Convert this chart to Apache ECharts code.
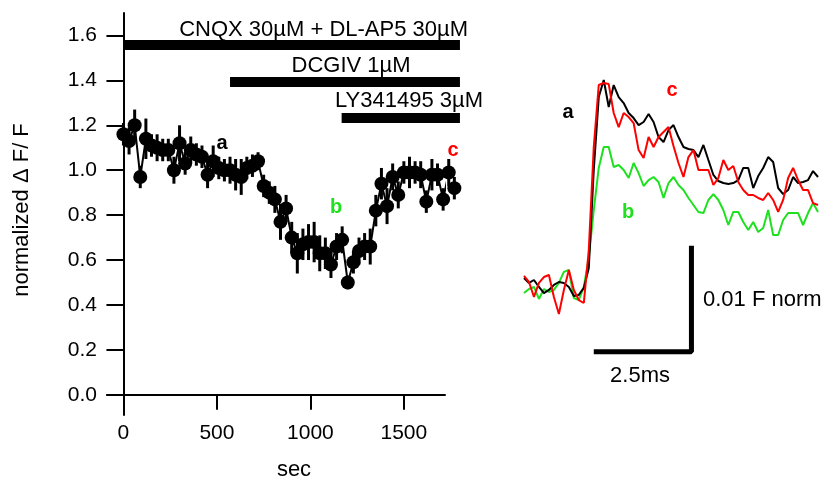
<!DOCTYPE html>
<html>
<head>
<meta charset="utf-8">
<script src="https://cdn.jsdelivr.net/npm/echarts@6.0.0/dist/echarts.min.js"></script>
<style>
  * { margin: 0; padding: 0; }
  html, body { background: #fff; }
</style>
</head>
<body>
<div id="main" style="width: 823px;height: 482px;"></div>
<script>
// 时间过程 (sec) 和归一化 ΔF/F
var secs = [0, 30, 60, 90, 120, 150, 180, 210, 240, 270, 300, 330, 360, 390, 420, 450, 480, 510, 540, 570,
  600, 630, 660, 690, 720, 750, 780, 810, 840, 870, 900, 930, 960, 990, 1020, 1050, 1080, 1110, 1140, 1170,
  1200, 1230, 1260, 1290, 1320, 1350, 1380, 1410, 1440, 1470, 1500, 1530, 1560, 1590, 1620, 1650, 1680, 1710, 1740, 1770]
var normDF = [1.16, 1.13, 1.20, 0.97, 1.14, 1.11, 1.10, 1.09, 1.09, 1.00, 1.12, 1.03, 1.09, 1.07, 1.06, 0.98, 1.04, 1.01, 1.00, 1.00,
  0.98, 0.97, 1.01, 1.02, 1.04, 0.93, 0.90, 0.87, 0.77, 0.83, 0.70, 0.63, 0.67, 0.68, 0.68, 0.63, 0.63, 0.58, 0.66, 0.69,
  0.50, 0.59, 0.64, 0.66, 0.66, 0.82, 0.94, 0.84, 0.97, 0.89, 0.99, 0.99, 0.99, 0.98, 0.86, 0.98, 0.98, 0.87, 0.99, 0.92]
var normErr = [0.05, 0.06, 0.07, 0.05, 0.09, 0.05, 0.06, 0.05, 0.05, 0.06, 0.08, 0.05, 0.06, 0.05, 0.05, 0.06, 0.07, 0.05, 0.05, 0.06,
  0.07, 0.08, 0.05, 0.05, 0.04, 0.05, 0.05, 0.06, 0.08, 0.06, 0.07, 0.09, 0.07, 0.08, 0.09, 0.08, 0.07, 0.06, 0.06, 0.06,
  0.03, 0.05, 0.06, 0.06, 0.08, 0.07, 0.07, 0.08, 0.06, 0.06, 0.05, 0.07, 0.05, 0.06, 0.05, 0.07, 0.05, 0.05, 0.06, 0.05]
var secTicks = [0, 500, 1000, 1500]
var dfTicks = [0, 0.2, 0.4, 0.6, 0.8, 1.0, 1.2, 1.4, 1.6]

// 药物施加时间
var drugNames = ['CNQX 30µM + DL-AP5 30µM', 'DCGIV 1µM', 'LY341495 3µM']
var drugStart = [8, 570, 1167]
var drugEnd = [1800, 1800, 1800]
var drugLevel = [1.557, 1.393, 1.232]

// 右侧荧光轨迹, 单位 0.001 F norm, 每 0.125 ms 一个点
var sampleMs = 0.125
var traceA = [0.85, 0.38, 0.66, 0, -0.57, -0.28, 0.19, 0.47, 0.38, 0, -0.85, -0.75, -0.09, 1.79, 11.04, 17.92, 19.53, 16.98, 19.06, 17.92,
  17.36, 16.42, 15.94, 15.28, 15.57, 16.32, 15.57, 14.15, 13.68, 14.81, 15.28, 14.15, 13.21, 13.02, 12.92, 12.26, 13.40, 11.98, 10.57, 10.0,
  9.81, 9.72, 9.81, 10.09, 11.23, 11.23, 9.34, 10.47, 11.23, 12.26, 11.79, 9.34, 8.77, 9.15, 10.38, 9.81, 9.91, 10.09, 10.94, 10.38]
var traceB = [-0.57, -0.19, 0, -1.13, -0.19, -0.47, -0.28, 0.38, 1.42, 1.60, -1.04, -1.23, 0, 2.74, 7.26, 11.23, 13.21, 13.21, 11.32, 11.51,
  11.04, 10.28, 11.70, 10.75, 9.53, 10.09, 10.38, 9.91, 8.40, 9.81, 10.38, 9.62, 9.15, 8.40, 7.74, 7.08, 6.98, 8.21, 8.77, 8.21,
  7.26, 5.85, 7.08, 7.08, 6.13, 5.38, 6.13, 5.19, 5.57, 7.26, 4.91, 4.91, 6.32, 6.98, 6.98, 6.98, 5.85, 6.98, 7.92, 7.08]
var traceC = [1.04, 0.47, -0.94, 0.38, 0.94, 1.13, -0.94, -2.55, -0.28, 1.60, -0.28, -1.23, -1.51, 3.49, 13.21, 19.06, 19.25, 19.15, 16.42, 15.09,
  16.42, 16.04, 15.47, 12.92, 12.17, 14.15, 13.21, 14.15, 14.62, 15.09, 13.30, 11.70, 10.38, 12.26, 12.92, 11.04, 11.04, 11.04, 9.62, 10.28,
  11.98, 11.04, 11.42, 9.91, 9.15, 8.68, 8.68, 8.40, 8.21, 8.87, 8.21, 7.08, 8.21, 10.28, 11.23, 10.09, 9.15, 9.15, 7.92, 7.74]

// 比例尺: 2.5 ms, 0.01 F norm (= 10 个单位)
var scaleX = [1.75, 4.2, 4.2]
var scaleY = [-6.1, -6.1, 3.9]

var FONT = 'Liberation Sans, Arial, sans-serif'
var GREEN = '#1fe01f'
var RED = '#ff0000'

function toPairs(xs, ys) {
  return xs.map(function (x, i) { return [x, ys[i]] })
}
function tracePairs(vals) {
  return vals.map(function (v, i) { return [i * sampleMs, v] })
}
function txt(x, y, s, opt) {
  opt = opt || {}
  return {
    type: 'text', x: x, y: y, rotation: opt.rotation || 0,
    style: {
      text: s, font: (opt.bold ? 'bold ' : '') + (opt.size || 22) + 'px ' + FONT,
      fill: opt.color || '#000', textAlign: opt.align || 'center', textVerticalAlign: 'middle'
    }
  }
}

var myChart = echarts.init(document.getElementById('main'))
myChart.setOption({
  animation: false,
  grid: [
    { left: 107, top: 13, width: 338, height: 402 },
    { left: 524, top: 60, width: 300, height: 300 }
  ],
  xAxis: [
    {
      type: 'value', gridIndex: 0, min: -88, max: 1720,
      splitLine: { show: false },
      axisLine: { onZero: true, lineStyle: { color: '#000', width: 2 } },
      axisTick: { length: 15, lineStyle: { color: '#000', width: 2 }, customValues: secTicks },
      axisLabel: {
        color: '#000', fontSize: 21, fontFamily: FONT, margin: 8, customValues: secTicks,
        formatter: function (v) { return String(v) }
      }
    },
    { type: 'value', gridIndex: 1, min: 0, max: 7.5, show: false }
  ],
  yAxis: [
    {
      type: 'value', gridIndex: 0, min: -0.09, max: 1.7,
      splitLine: { show: false },
      axisLine: { onZero: true, lineStyle: { color: '#000', width: 2 } },
      axisTick: { length: 17, lineStyle: { color: '#000', width: 2 }, customValues: dfTicks },
      axisLabel: {
        color: '#000', fontSize: 21, fontFamily: FONT, margin: 10, customValues: dfTicks,
        formatter: function (v) { return v.toFixed(1) }
      }
    },
    { type: 'value', gridIndex: 1, min: -6.89, max: 21.42, show: false }
  ],
  series: [
    {
      // 药物横条
      type: 'custom', xAxisIndex: 0, yAxisIndex: 0, clip: false,
      data: drugStart.map(function (s, i) { return [s, drugEnd[i], drugLevel[i]] }),
      renderItem: function (params, api) {
        var p1 = api.coord([api.value(0), api.value(2)])
        var p2 = api.coord([api.value(1), api.value(2)])
        return { type: 'line', shape: { x1: p1[0], y1: p1[1], x2: p2[0], y2: p2[1] }, style: { stroke: '#000', lineWidth: 10 } }
      }
    },
    {
      // 误差线
      type: 'custom', xAxisIndex: 0, yAxisIndex: 0, clip: false,
      data: secs.map(function (t, i) { return [t, normDF[i] - normErr[i], normDF[i] + normErr[i]] }),
      encode: { x: 0, y: [1, 2] },
      renderItem: function (params, api) {
        var p1 = api.coord([api.value(0), api.value(1)])
        var p2 = api.coord([api.value(0), api.value(2)])
        return { type: 'line', shape: { x1: p1[0], y1: p1[1], x2: p2[0], y2: p2[1] }, style: { stroke: '#000', lineWidth: 3 } }
      }
    },
    {
      type: 'line', xAxisIndex: 0, yAxisIndex: 0, clip: false,
      data: toPairs(secs, normDF),
      symbol: 'circle', symbolSize: 14,
      itemStyle: { color: '#000' },
      lineStyle: { color: '#000', width: 2 }
    },
    {
      type: 'line', xAxisIndex: 1, yAxisIndex: 1, data: tracePairs(traceB), symbol: 'none',
      lineStyle: { color: GREEN, width: 2 }
    },
    {
      type: 'line', xAxisIndex: 1, yAxisIndex: 1, data: tracePairs(traceA), symbol: 'none',
      lineStyle: { color: '#000', width: 2 }
    },
    {
      type: 'line', xAxisIndex: 1, yAxisIndex: 1, data: tracePairs(traceC), symbol: 'none',
      lineStyle: { color: RED, width: 2 }
    },
    {
      // 比例尺
      type: 'line', xAxisIndex: 1, yAxisIndex: 1, clip: false,
      data: toPairs(scaleX, scaleY), symbol: 'none',
      lineStyle: { color: '#000', width: 5 }
    }
  ],
  graphic: [
    txt(468, 30, drugNames[0], { align: 'right' }),
    txt(351, 66, drugNames[1]),
    txt(335, 101, drugNames[2], { align: 'left' }),
    txt(294, 470, 'sec'),
    txt(22, 210, 'normalized \u0394 F/ F', { rotation: Math.PI / 2 }),
    txt(222, 143, 'a', { bold: true, size: 20 }),
    txt(336, 207, 'b', { bold: true, size: 20, color: GREEN }),
    txt(453, 150, 'c', { bold: true, size: 20, color: RED }),
    txt(568, 112, 'a', { bold: true, size: 20 }),
    txt(628, 212, 'b', { bold: true, size: 20, color: GREEN }),
    txt(672, 90, 'c', { bold: true, size: 20, color: RED }),
    txt(703, 300, '0.01 F norm', { align: 'left' }),
    txt(640, 376, '2.5ms')
  ]
})
</script>
</body>
</html>
